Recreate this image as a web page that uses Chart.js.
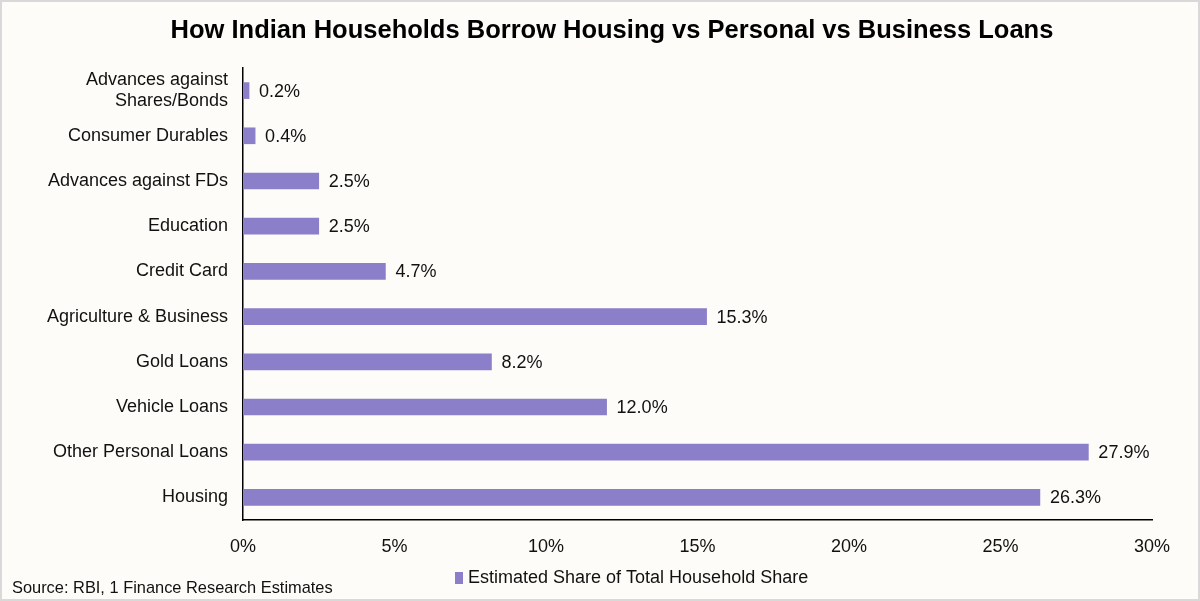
<!DOCTYPE html>
<html>
<head>
<meta charset="utf-8">
<script src="https://cdn.jsdelivr.net/npm/chart.js@4.4.1/dist/chart.umd.min.js"></script>
<style>
html,body{margin:0;padding:0;background:#fdfcf8;}
#wrap{position:relative;width:1200px;height:601px;}
canvas{display:block;}
</style>
</head>
<body>
<div id="wrap"><canvas id="c" width="1200" height="601"></canvas></div>
<script>
const categories = [
  ["Advances against", "Shares/Bonds"],
  "Consumer Durables",
  "Advances against FDs",
  "Education",
  "Credit Card",
  "Agriculture & Business",
  "Gold Loans",
  "Vehicle Loans",
  "Other Personal Loans",
  "Housing"
];
const shareValues = [0.2, 0.4, 2.5, 2.5, 4.7, 15.3, 8.2, 12.0, 27.9, 26.3];
const xTicks = [0, 5, 10, 15, 20, 25, 30];
const seriesName = "Estimated Share of Total Household Share";
const titleText = "How Indian Households Borrow Housing vs Personal vs Business Loans";
const sourceText = "Source: RBI, 1 Finance Research Estimates";

const FONT = "'Liberation Sans', Arial, sans-serif";
const BAR_COLOR = "#8b7fc9";

const decor = {
  id: 'decor',
  beforeDraw(chart) {
    const ctx = chart.ctx;
    ctx.save();
    ctx.fillStyle = '#fdfcf8';
    ctx.fillRect(0, 0, chart.width, chart.height);
    ctx.restore();
  },
  afterDraw(chart) {
    const ctx = chart.ctx;
    ctx.save();
    // border
    ctx.strokeStyle = '#d9d9d9';
    ctx.lineWidth = 2;
    ctx.strokeRect(1, 1, chart.width - 2, chart.height - 2);
    // title
    ctx.fillStyle = '#000';
    ctx.font = "bold 25.5px " + FONT;
    ctx.textAlign = 'center';
    ctx.textBaseline = 'middle';
    ctx.fillText(titleText, 612, 31);
    // data labels
    const meta = chart.getDatasetMeta(0);
    ctx.fillStyle = '#111';
    ctx.font = "18px " + FONT;
    ctx.textAlign = 'left';
    ctx.textBaseline = 'middle';
    meta.data.forEach((bar, i) => {
      ctx.fillText(shareValues[i].toFixed(1) + '%', bar.x + 10, bar.y + 1);
    });
    // legend
    const lx = 455, ly = 578;
    ctx.fillStyle = BAR_COLOR;
    ctx.fillRect(lx, ly - 6, 8, 12);
    ctx.fillStyle = '#111';
    ctx.font = "18px " + FONT;
    ctx.fillText(seriesName, lx + 13, ly);
    // source
    ctx.font = "16.4px " + FONT;
    ctx.fillText(sourceText, 12, 588);
    ctx.restore();
  }
};

new Chart(document.getElementById('c'), {
  type: 'bar',
  data: {
    labels: categories,
    datasets: [{
      label: seriesName,
      data: shareValues,
      backgroundColor: BAR_COLOR,
      barThickness: 16
    }]
  },
  options: {
    indexAxis: 'y',
    responsive: false,
    animation: false,
    devicePixelRatio: 1,
    layout: { padding: { left: 0, right: 48, top: 68, bottom: 0 } },
    plugins: {
      legend: { display: false },
      tooltip: { enabled: false },
      title: { display: false }
    },
    scales: {
      x: {
        min: 0, max: 30,
        afterBuildTicks(scale) { scale.ticks = xTicks.map(v => ({ value: v })); },
        afterFit(scale) { scale.height = 81; },
        grid: { display: false, drawTicks: false },
        border: { display: true, color: '#000', width: 1.5 },
        ticks: {
          padding: 16,
          color: '#111',
          font: { family: FONT, size: 18 },
          callback: v => v + '%'
        }
      },
      y: {
        afterFit(scale) { scale.width = 243; },
        grid: { display: false, drawTicks: false },
        border: { display: true, color: '#000', width: 1.5 },
        ticks: {
          padding: 15,
          color: '#111',
          font: { family: FONT, size: 18, lineHeight: 1.17 }
        }
      }
    }
  },
  plugins: [decor]
});
</script>
</body>
</html>
